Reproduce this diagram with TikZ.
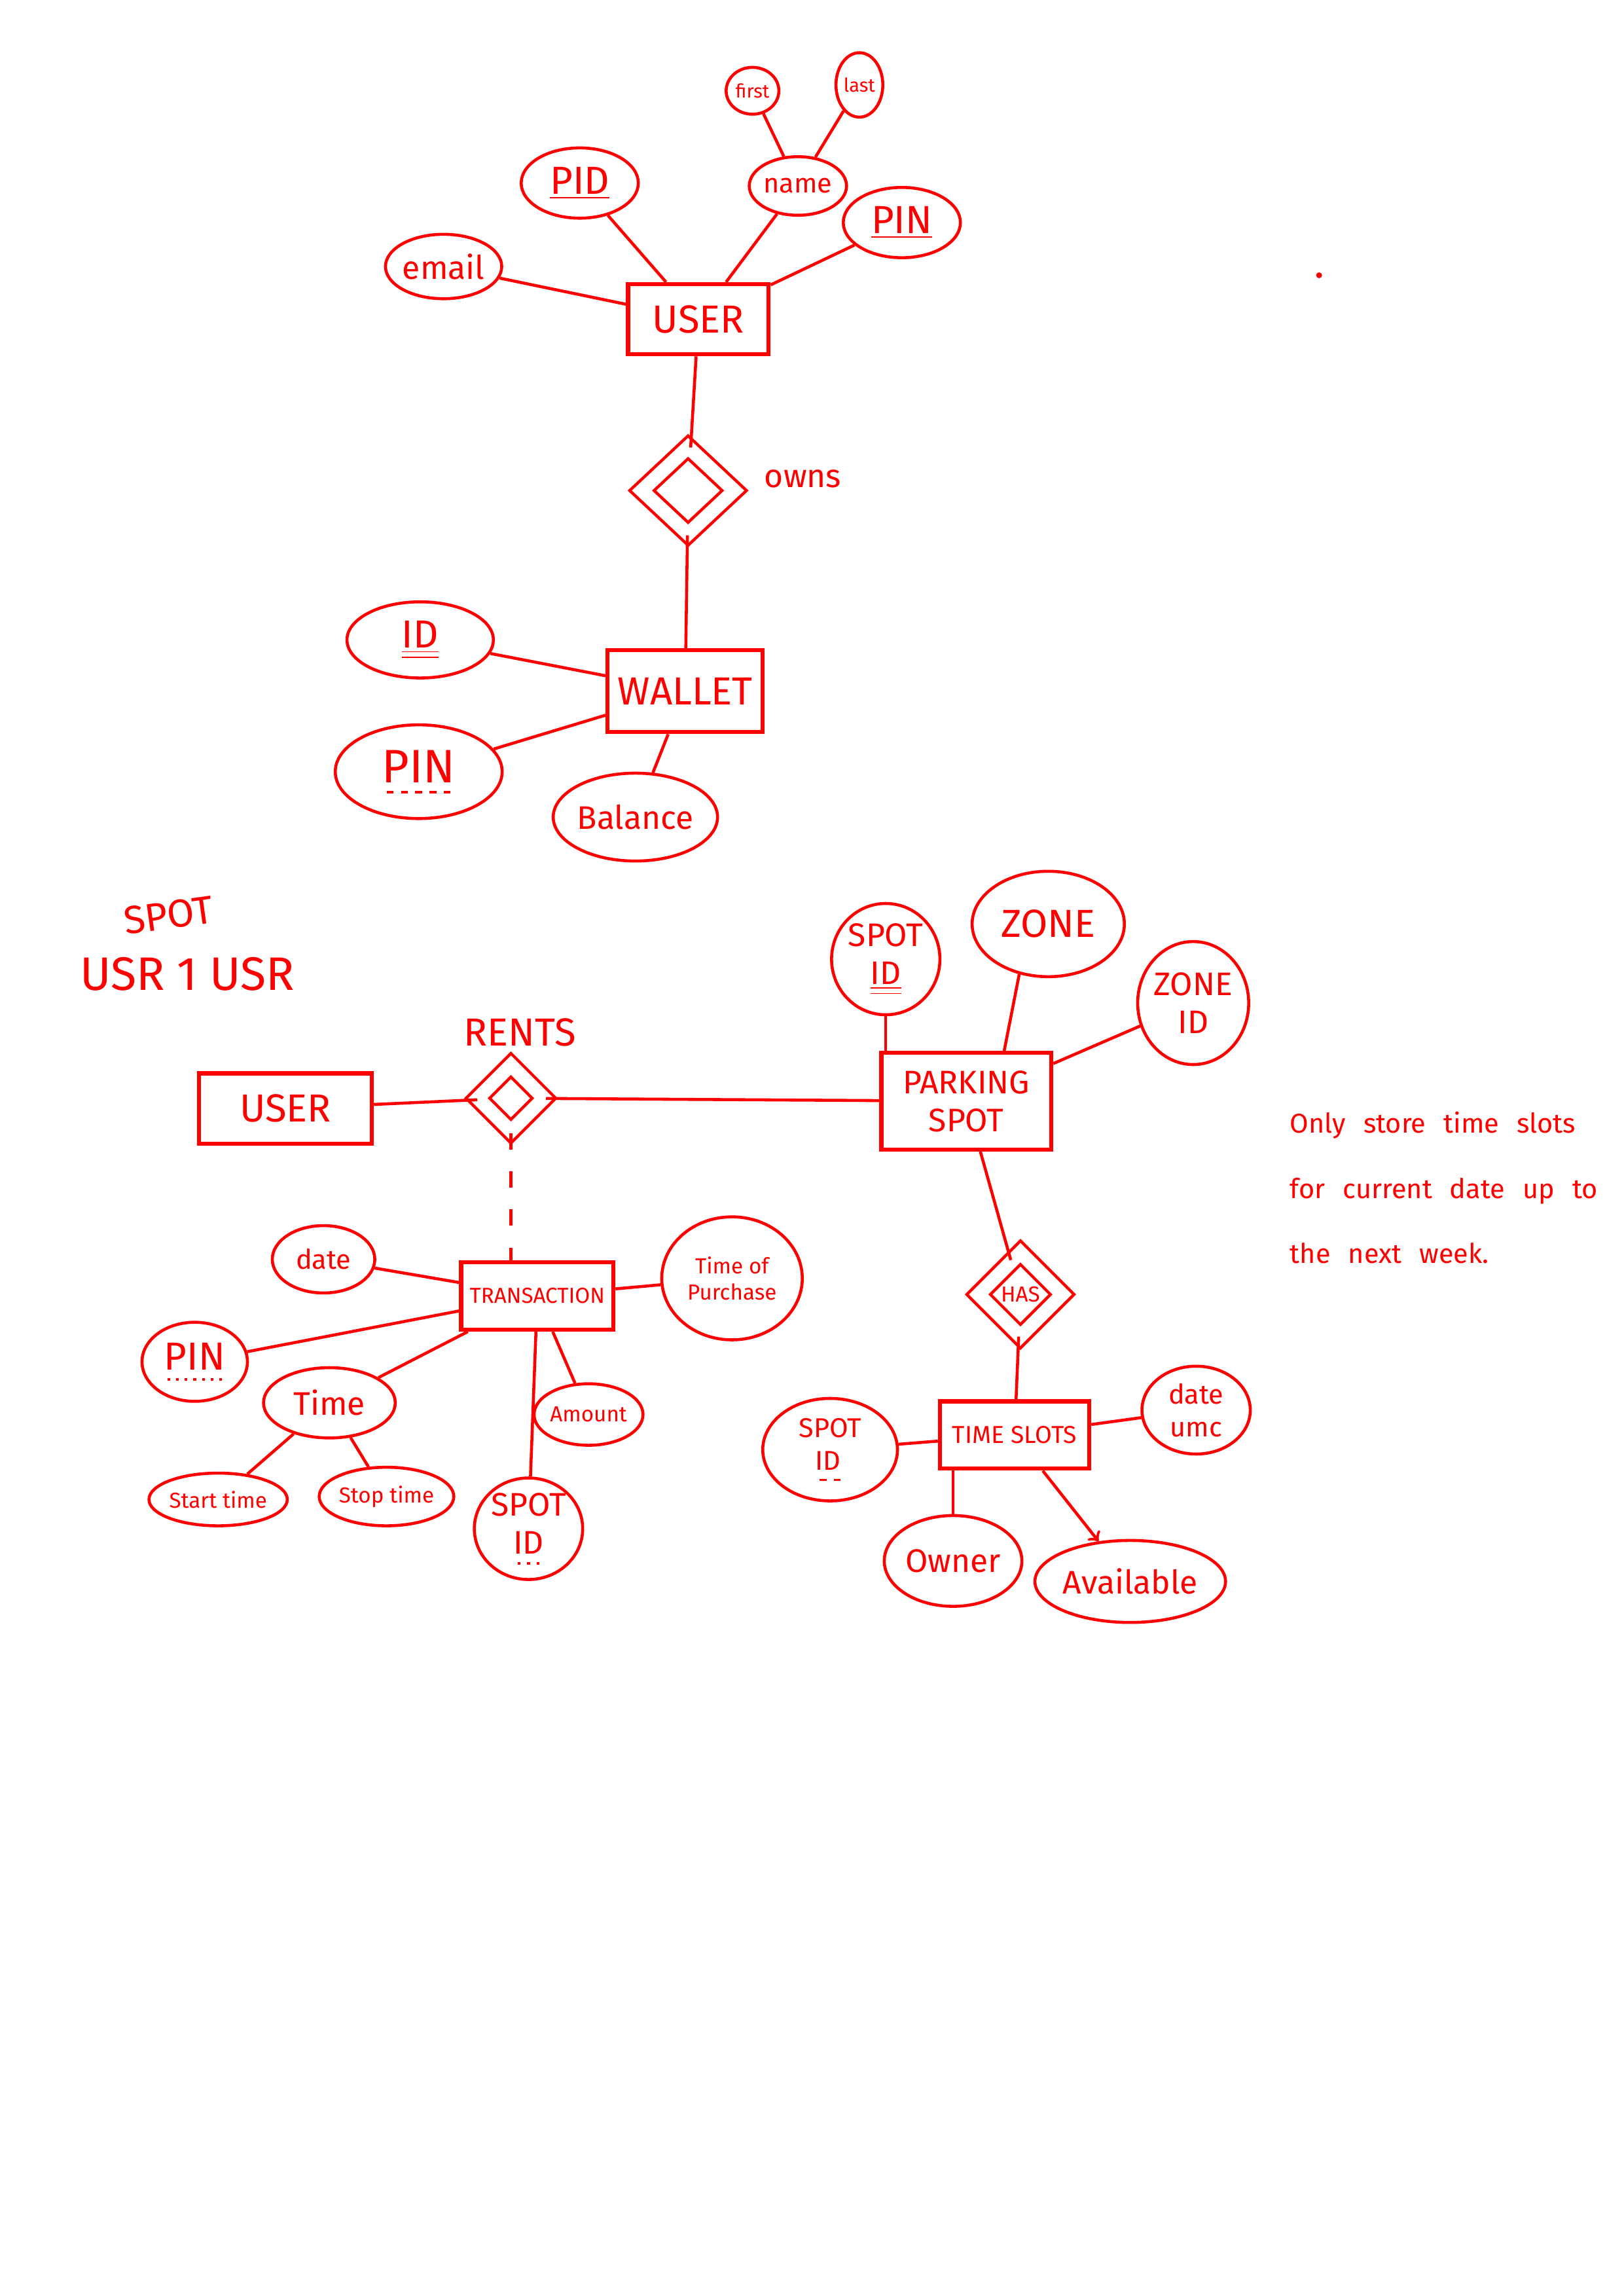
\documentclass[tikz,border=0pt]{standalone}
\usepackage{fontspec}
\setmainfont{Fira Sans}
\usetikzlibrary{shapes.geometric}
\newcommand\pxu{0.018936cm}
\newsavebox\ulbox
\newcommand\dashul[1]{\sbox\ulbox{#1}\rlap{\usebox\ulbox}\raisebox{-4pt}{\makebox[\wd\ulbox]{\xleaders\hbox to 4.5pt{\hss\rule{2.5pt}{0.8pt}\hss}\hfill}}}
\newcommand\dotul[1]{\sbox\ulbox{#1}\rlap{\usebox\ulbox}\raisebox{-4pt}{\makebox[\wd\ulbox]{\xleaders\hbox to 3pt{\hss\rule{1pt}{1pt}\hss}\hfill}}}
\tikzset{
  sz/.style 2 args={minimum width={2*#1*\pxu}, minimum height={2*#2*\pxu}},
  attr/.style={ellipse, draw, inner sep=0pt, align=center},
  entity/.style={rectangle, draw, line width=1.5pt, inner sep=1pt, align=center},
  rel/.style={diamond, draw, double, double distance=5pt, inner sep=0pt, align=center}
}

\begin{document}
\begin{tikzpicture}[x=\pxu, y=-\pxu, red, line width=1.1pt]
\useasboundingbox (0,0) rectangle (1109,1568);

% user and wallet
\node[entity, sz={48}{24}, font=\Large] (user) at (477,218) {USER};
\node[attr, sz={18}{16}, font=\scriptsize] (first) at (514,62) {first};
\node[attr, sz={16}{22}, font=\scriptsize] (last) at (587,58) {last};
\node[attr, sz={32}{20}] (name) at (545,127) {name};
\node[attr, sz={40}{24}, font=\Large] (pid) at (396,125) {\underline{PID}};
\node[attr, sz={35}{22}, font=\large] (email) at (303,182) {email};
\node[attr, sz={40}{24}, font=\Large] (pin) at (616,152) {\underline{PIN}};
\node[rel, sz={32}{30}] (owns) at (470,335) {};
\node[right, font=\large] (ownstext) at (515,327) {owns};
\node[entity, sz={53}{28}, font=\Large] (wallet) at (468,472) {WALLET};
\node[attr, sz={50}{26}, font=\Large] (wid) at (287,437) {\underline{\underline{ID}}};
\node[attr, sz={57}{32}, font=\LARGE] (wpin) at (286,527) {\dashul{PIN}};
\node[attr, sz={47}{30}, font=\large] (balance) at (434,558) {Balance};

\draw (first) -- (name);
\draw (last) -- (name);
\draw (name) -- (user);
\draw (pid) -- (user);
\draw (email) -- (user);
\draw (pin) -- (user);
\draw (user) -- (owns);
\draw (owns) -- (wallet);
\draw (wid) -- (wallet);
\draw (wpin) -- (wallet);
\draw (balance) -- (wallet);
\fill (901,188) circle (2);

%%%%%%%%%%%%%%%%%%%%%%%%%%%%%%%%%%%%%%%%

\node[font=\Large, rotate=8] (spotnote) at (115,625) {SPOT};
\node[font=\LARGE] (usrnote) at (128,665) {USR 1 USR};

\node[entity, sz={59}{24}, font=\Large] (user2) at (195,757) {USER};
\node[rel, sz={23}{23}] (rents) at (349,750) {};
\node[font=\Large] (rentstext) at (355,705) {RENTS};
\node[entity, sz={58}{33}, font=\large] (spot) at (660,752) {PARKING\\SPOT};
\node[attr, sz={37}{38}, font=\large] (spotid) at (605,655) {SPOT\\\underline{\underline{ID}}};
\node[attr, sz={52}{36}, font=\Large] (zone) at (716,631) {ZONE};
\node[attr, sz={36}{42}, font=\large] (zoneid) at (815,685) {ZONE\\ID};

\draw (user2) -- (rents);
\draw (rents) -- (spot);
\draw (spotid) -- (spotid |- spot.north);
\draw (zone.240) -- (spot.53);
\draw (zoneid) -- (spot);

\node[rel, sz={29}{29}, font=\footnotesize] (has) at (697,884) {HAS};
\node[entity, sz={51}{23}, font=\small] (slots) at (693,980) {TIME SLOTS};
\node[attr, sz={46}{35}] (tsid) at (567,990) {SPOT\\\dashul{ID\,}};
\node[attr, sz={37}{30}] (tsdate) at (817,963) {date\\umc};
\node[attr, sz={47}{31}, font=\large] (owner) at (651,1066) {Owner};
\node[attr, sz={50}{28}, font=\large] (avail) at (772,1080) {Available};

\draw (spot) -- (has);
\draw (has) -- (slots);
\draw (tsid) -- (slots);
\draw (tsdate) -- (slots);
\draw (owner) -- (owner |- slots.south);
\draw[->] (slots) -- (avail);

\node[anchor=north west, align=left, font={\fontsize{10}{24}\selectfont\spaceskip=0.65em}]
  (note) at (874,752) {Only store time slots\\for current date up to\\the next week.};

%%%%%%%%%%%%%%%%%%%%%%%%%%%%%%%%%%%%%%%%

\node[entity, sz={52}{23}, font=\footnotesize] (trans) at (367,885) {TRANSACTION};
\node[attr, sz={35}{23}] (tdate) at (221,860) {date};
\node[attr, sz={48}{42}, font=\footnotesize] (tpurch) at (500,873) {Time of\\Purchase};
\node[attr, sz={36}{27}, font=\Large] (tpin) at (133,930) {\dotul{PIN}};
\node[attr, sz={45}{24}, font=\large] (ttime) at (225,958) {Time};
\node[attr, sz={42}{18}, font=\footnotesize] (tstart) at (149,1024) {Start time};
\node[attr, sz={39}{20}, font=\footnotesize] (tstop) at (264,1022) {Stop time};
\node[attr, sz={36}{21}, font=\footnotesize] (tamount) at (402,966) {Amount};
\node[attr, sz={37}{32}, font=\large] (tspot) at (361,1044) {SPOT\\\dotul{ID}};

\draw[dash pattern=on 6pt off 8pt] (rents) -- (rents |- trans.north);
\draw (tdate) -- (trans);
\draw (tpurch) -- (trans);
\draw (tpin) -- (trans);
\draw (ttime) -- (trans);
\draw (tstart) -- (ttime);
\draw (tstop) -- (ttime);
\draw (tamount) -- (trans);
\draw (tspot) -- (trans);

\end{tikzpicture}
\end{document}
